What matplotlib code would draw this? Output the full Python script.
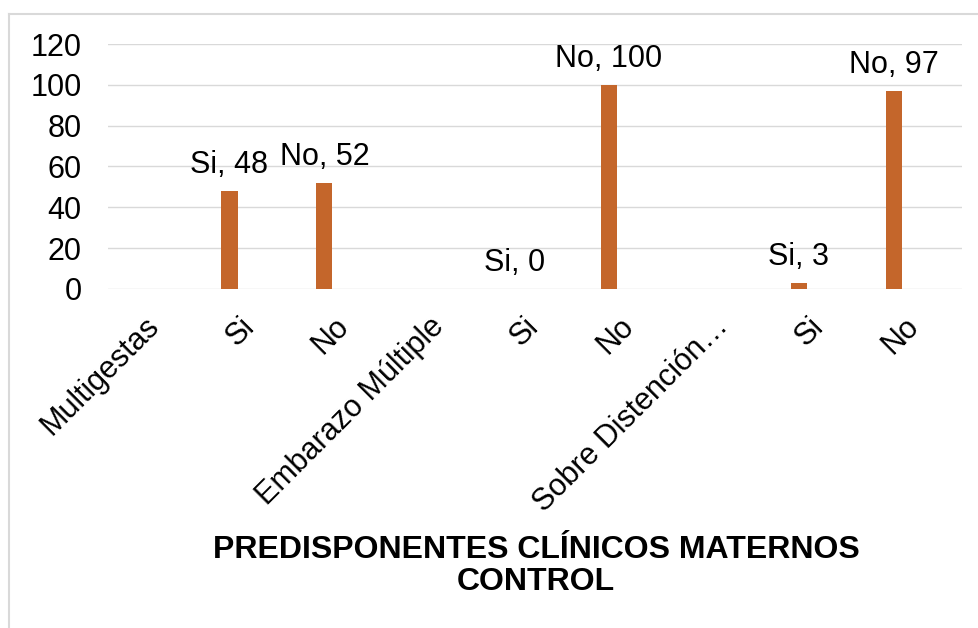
"""
Predisponentes clinicos maternos - grupo control
"""
import matplotlib.pyplot as plt
import matplotlib.transforms as mtransforms
from matplotlib.lines import Line2D

# ###
# data
# ###
CATEGORIES = ['Multigestas', 'Si', 'No', 'Embarazo Múltiple', 'Si', 'No',
              'Sobre Distención…', 'Si', 'No']
VALUES     = [None, 48, 52, None, 0, 100, None, 3, 97]
Y_TICKS    = [0, 20, 40, 60, 80, 100, 120]
TITLE      = 'PREDISPONENTES CLÍNICOS MATERNOS\nCONTROL'

# figure variables
BAR_COLOR   = '#C4662B'
GRID_COLOR  = '#D9D9D9'
BAR_WIDTH   = 0.17
BAR_OFFSET  = -0.22
FONT_SIZE   = 22
PLOT_DPI    = 100

plt.rcParams['font.family'] = ['Liberation Sans', 'DejaVu Sans']

fig = plt.figure(figsize=(9.79, 6.28), dpi=PLOT_DPI, facecolor='w')
ax = fig.add_axes([108 / 979, 1 - 289 / 628, 854 / 979, 245 / 628])

# bars with "category, value" labels
for i, (cat, val) in enumerate(zip(CATEGORIES, VALUES)):
    if val is None:
        continue
    x = i + BAR_OFFSET
    ax.bar(x, val, width=BAR_WIDTH, color=BAR_COLOR, zorder=3)
    ax.annotate('{0}, {1}'.format(cat, val), xy=(x, val), xytext=(0, 8),
                textcoords='offset points', ha='center', va='bottom',
                fontsize=FONT_SIZE, color='black')

# axes setting
ax.set_xlim(-0.5, len(CATEGORIES) - 0.5)
ax.set_ylim(0, 120)
ax.set_yticks(Y_TICKS)
ax.set_xticks(range(len(CATEGORIES)))
ax.set_xticklabels(CATEGORIES, rotation=45, ha='right', rotation_mode='anchor')
ax.tick_params(axis='both', length=0, labelsize=FONT_SIZE)
ax.tick_params(axis='y', pad=19)
ax.tick_params(axis='x', pad=16)
shift = mtransforms.ScaledTranslation(-8 / 72, 0, fig.dpi_scale_trans)
for lbl in ax.get_xticklabels():
    lbl.set_transform(lbl.get_transform() + shift)
ax.grid(axis='y', color=GRID_COLOR, linewidth=1.0, zorder=0)
ax.set_axisbelow(True)
for side in ['top', 'right', 'left', 'bottom']:
    ax.spines[side].set_visible(False)

# title under the axis
fig.text(536 / 979, 1 - 566 / 628, TITLE, ha='center', va='center',
         fontsize=23, fontweight='bold', linespacing=1.1)

# chart area border
fig.add_artist(Line2D([9 / 979, 1], [1 - 14 / 628] * 2, color=GRID_COLOR, linewidth=1.5,
                      transform=fig.transFigure))
fig.add_artist(Line2D([9 / 979] * 2, [0, 1 - 14 / 628], color=GRID_COLOR, linewidth=1.5,
                      transform=fig.transFigure))

fig.savefig('out.png', dpi=PLOT_DPI)
